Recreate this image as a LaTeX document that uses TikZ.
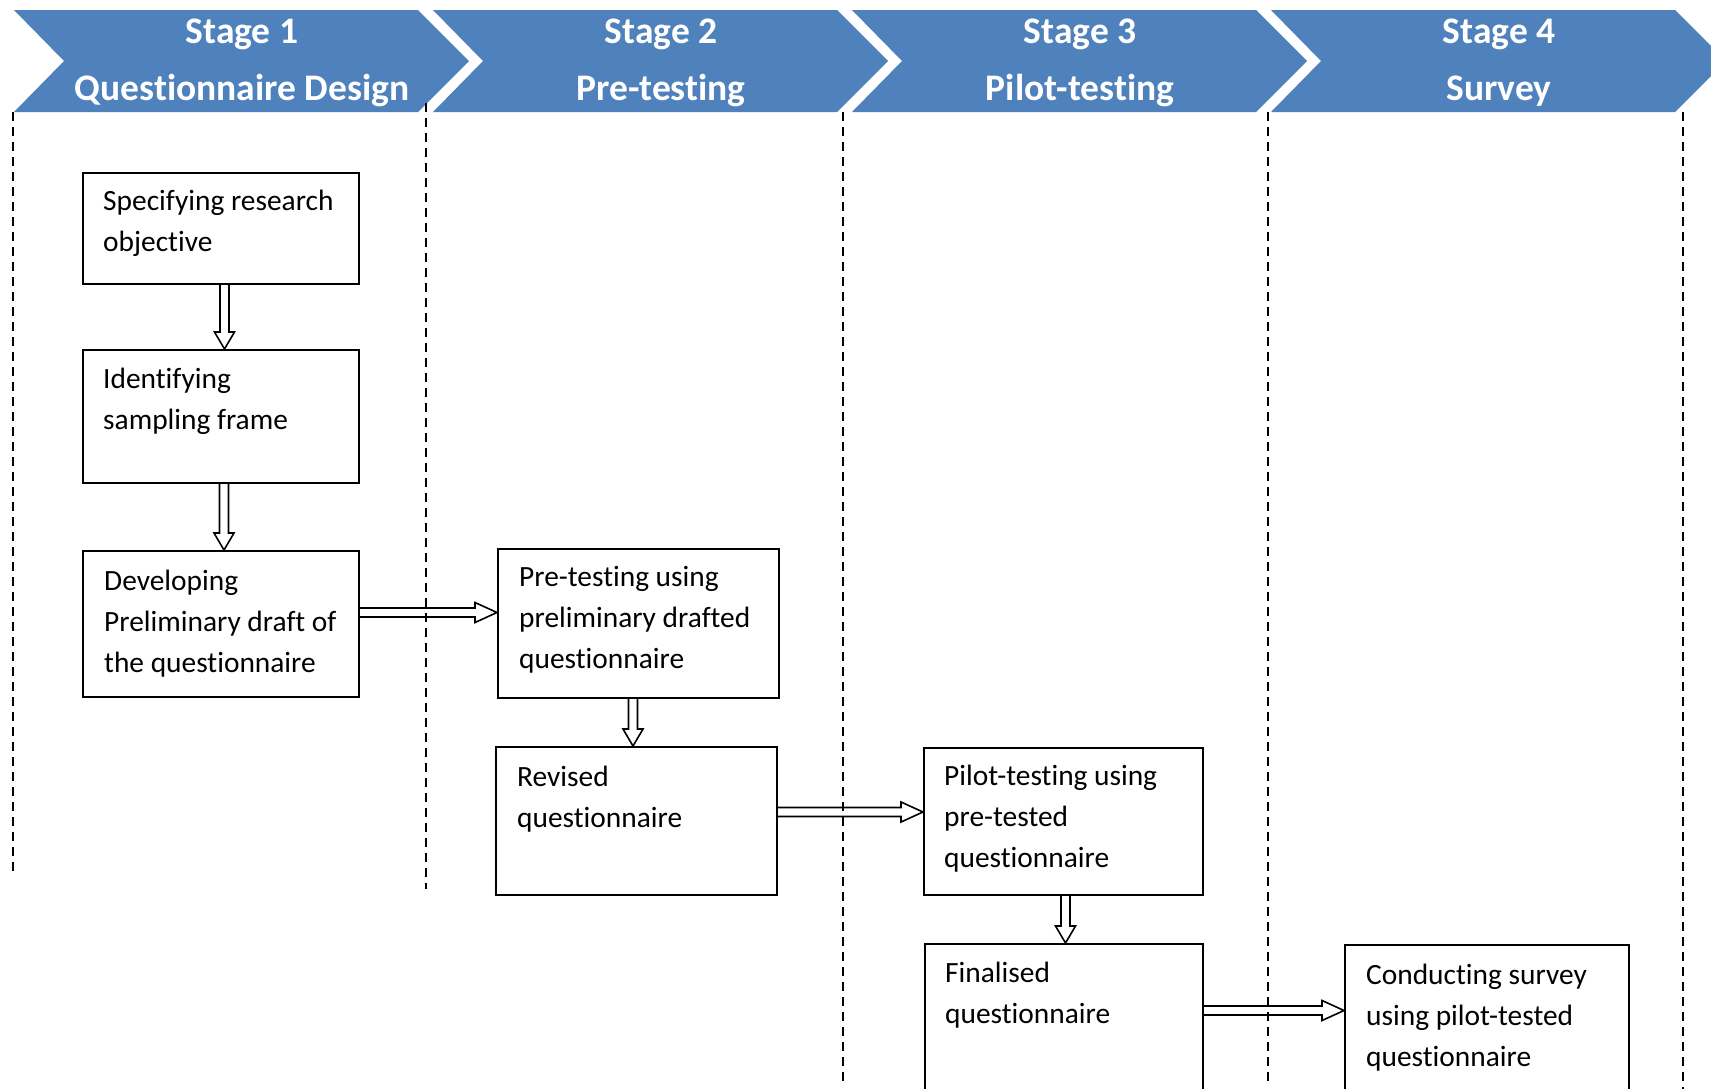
\documentclass[tikz,border=0pt]{standalone}
\usepackage{fontspec}
\setmainfont[Ligatures={NoCommon}]{Carlito}
\usetikzlibrary{calc}
\definecolor{chev}{HTML}{4F81BD}
\newcommand\bodytext[1]{\parbox[t]{400pt}{\fontsize{29.4}{41}\selectfont #1}}
\newcommand\vconn[3]{%
  \draw[arr] let \p1=($(#1.south west)+(#3,0)$), \p2=(#2.north) in
   (\x1-4.5pt,\y1) -- (\x1-4.5pt,\y2+17pt) -- (\x1-10pt,\y2+17pt) -- (\x1,\y2)
   -- (\x1+10pt,\y2+17pt) -- (\x1+4.5pt,\y2+17pt) -- (\x1+4.5pt,\y1);}
\newcommand\hconn[3]{%
  \draw[arr] let \p1=($(#1.north east)+(0,#3)$), \p2=(#2.west) in
   (\x1,\y1+4.5pt) -- (\x2-22pt,\y1+4.5pt) -- (\x2-22pt,\y1+10pt) -- (\x2,\y1)
   -- (\x2-22pt,\y1-10pt) -- (\x2-22pt,\y1-4.5pt) -- (\x1,\y1-4.5pt);}
\begin{document}
\begin{tikzpicture}[x=1pt,y=-1pt,
  box/.style={draw, line width=2pt, inner sep=0pt, anchor=north west},
  txt/.style={anchor=base west, inner sep=0pt},
  head/.style={anchor=base, inner sep=0pt, text=white, font=\bfseries\fontsize{37.5}{44}\selectfont},
  vline/.style={line width=2pt, dash pattern=on 9pt off 6pt},
  arr/.style={line width=1.6pt, line join=miter}]
\clip (0,0) rectangle (1711,1088);
\fill[white] (0,0) rectangle (1711,1088);
% chevrons
\foreach \i in {0,...,3}{
  \fill[chev] ({14+419*\i},10) -- ({418+419*\i},10) -- ({469+419*\i},61)
    -- ({418+419*\i},112) -- ({14+419*\i},112) -- ({64+419*\i},61) -- cycle;
}
\node[head] (s1) at (242,43) {Stage 1};
\node[head] (n1) at (242,100) {Questionnaire Design};
\node[head] (s2) at (661,43) {Stage 2};
\node[head] (n2) at (661,100) {Pre-testing};
\node[head] (s3) at (1080,43) {Stage 3};
\node[head] (n3) at (1080,100) {Pilot-testing};
\node[head] (s4) at (1499,43) {Stage 4};
\node[head] (n4) at (1499,100) {Survey};
% dashed separators
\draw[vline] (13,112) -- (13,876);
\draw[vline] (426,103) -- (426,889);
\draw[vline] (843,112) -- (843,1082);
\draw[vline] (1268,112) -- (1268,1082);
\draw[vline] (1683,112) -- (1683,1100);
% boxes
\node[box, minimum width=276pt, minimum height=111pt] (b1) at (82,172) {};
\node[box, minimum width=276pt, minimum height=133pt] (b2) at (82,349) {};
\node[box, minimum width=276pt, minimum height=146pt] (b3) at (82,550) {};
\node[box, minimum width=281pt, minimum height=149pt] (b4) at (497,548) {};
\node[box, minimum width=281pt, minimum height=148pt] (b5) at (495,746) {};
\node[box, minimum width=279pt, minimum height=147pt] (b6) at (923,747) {};
\node[box, minimum width=278pt, minimum height=165pt] (b7) at (924,943) {};
\node[box, minimum width=284pt, minimum height=165pt] (b8) at (1344,944) {};
% texts
\node[txt] (t1) at ($(b1.north west)+(21,38)$) {\bodytext{Specifying research\\objective}};
\node[txt] (t2) at ($(b2.north west)+(21,39)$) {\bodytext{Identifying\\sampling frame}};
\node[txt] (t3) at ($(b3.north west)+(22,40)$) {\bodytext{Developing\\Preliminary draft of\\the questionnaire}};
\node[txt] (t4) at ($(b4.north west)+(22,38)$) {\bodytext{Pre-testing using\\preliminary drafted\\questionnaire}};
\node[txt] (t5) at ($(b5.north west)+(22,40)$) {\bodytext{Revised\\questionnaire}};
\node[txt] (t6) at ($(b6.north west)+(21,38)$) {\bodytext{Pilot-testing using\\pre-tested\\questionnaire}};
\node[txt] (t7) at ($(b7.north west)+(21,39)$) {\bodytext{Finalised\\questionnaire}};
\node[txt] (t8) at ($(b8.north west)+(22,40)$) {\bodytext{Conducting survey\\using pilot-tested\\questionnaire}};
% connectors
\vconn{b1}{b2}{142.5}
\vconn{b2}{b3}{142}
\hconn{b3}{b4}{62.5}
\vconn{b4}{b5}{136}
\hconn{b5}{b6}{66}
\vconn{b6}{b7}{142.5}
\hconn{b7}{b8}{67.5}
\end{tikzpicture}
\end{document}
